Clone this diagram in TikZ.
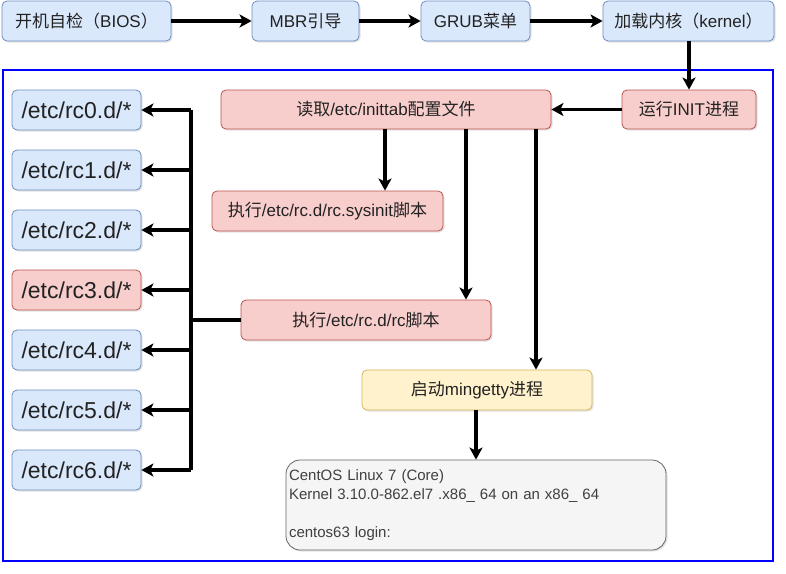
\documentclass[tikz,border=0pt]{standalone}
\usepackage{fontspec}
\setmainfont{Liberation Sans}
\newfontfamily\cjk{Noto Sans CJK SC}
\newcommand\zh[1]{{\cjk #1}}
\usetikzlibrary{arrows.meta,shadows}
\definecolor{bfill}{HTML}{DAE8FC}
\definecolor{bline}{HTML}{6C8EBF}
\definecolor{rfill}{HTML}{F8CECC}
\definecolor{rline}{HTML}{B85450}
\definecolor{yfill}{HTML}{FFF2CC}
\definecolor{yline}{HTML}{D6B656}
\definecolor{gfill}{HTML}{F5F5F5}
\definecolor{gline}{HTML}{666666}
\definecolor{txt}{HTML}{222222}
\tikzset{
  boxbase/.style={draw, rounded corners=5pt, inner sep=0pt, line width=0.8pt, text=txt,
    drop shadow={shadow xshift=1.5pt, shadow yshift=-1.5pt, opacity=0.22}},
  bluebox/.style={boxbase, fill=bfill, draw=bline},
  redbox/.style={boxbase, fill=rfill, draw=rline},
  yellowbox/.style={boxbase, fill=yfill, draw=yline},
  graybox/.style={boxbase, fill=gfill, draw=gline, rounded corners=14pt},
  midfont/.style={font=\fontsize{17}{20}\selectfont},
  bigfont/.style={font=\fontsize{23}{26}\selectfont},
  arr/.style={line width=3.2pt, -{Stealth[length=12pt,width=13pt,inset=3pt]}},
  busline/.style={line width=3.2pt},
}
\begin{document}
\begin{tikzpicture}[x=1pt,y=-1pt]
\useasboundingbox (0,0) rectangle (786,573);
\fill[white] (0,0) rectangle (786,573);
% outer frame
\draw[blue, line width=2.2pt] (3,70) rectangle (773,561);
% top row
\node[bluebox, midfont, minimum width=169, minimum height=40] (bios) at (86.5,21) {\zh{开机自检（}BIOS\zh{）}};
\node[bluebox, midfont, minimum width=107, minimum height=40] (mbr) at (305.5,21) {MBR\zh{引导}};
\node[bluebox, midfont, minimum width=109, minimum height=40] (grub) at (475.5,21) {GRUB\zh{菜单}};
\node[bluebox, midfont, minimum width=171, minimum height=40] (kernel) at (688.5,21) {\zh{加载内核（}kernel\zh{）}};
\draw[arr] (bios) -- (mbr);
\draw[arr] (mbr) -- (grub);
\draw[arr] (grub) -- (kernel);
% init
\node[redbox, midfont, minimum width=134, minimum height=39] (init) at (689,109.5) {\zh{运行}INIT\zh{进程}};
\draw[arr] (kernel.south -| init) -- (init.north);
\node[redbox, midfont, minimum width=330, minimum height=39] (inittab) at (386,109.5) {\zh{读取}/etc/inittab\zh{配置文件}};
\draw[arr] (init) -- (inittab);
\node[redbox, midfont, minimum width=231, minimum height=40] (sysinit) at (327.5,211) {\zh{执行}/etc/rc.d/rc.sysinit\zh{脚本}};
\node[redbox, midfont, minimum width=250, minimum height=40] (rcs) at (366,320) {\zh{执行}/etc/rc.d/rc\zh{脚本}};
\node[yellowbox, midfont, minimum width=230, minimum height=40] (getty) at (477,390) {\zh{启动}mingetty\zh{进程}};
\coordinate (xa) at (385,0);
\coordinate (xb) at (466,0);
\coordinate (xc) at (536,0);
\draw[arr] (inittab.south -| xa) -- (sysinit.north -| xa);
\draw[arr] (inittab.south -| xb) -- (rcs.north -| xb);
\draw[arr] (inittab.south -| xc) -- (getty.north -| xc);
% login box
\node[graybox, minimum width=380, minimum height=90, text width=374, align=left,
  font=\fontsize{15}{19}\selectfont, text=black!75] (login) at (476,505)
  {CentOS Linux 7 (Core)\\Kernel 3.10.0-862.el7 .x86\_ 64 on an x86\_ 64\\ \mbox{}\\centos63 login:};
\draw[arr] (getty.south -| login) -- (login.north);
% rc level boxes
\foreach \i/\c in {0/bluebox,1/bluebox,2/bluebox,3/redbox,4/bluebox,5/bluebox,6/bluebox}{
  \node[\c, bigfont, minimum width=129, minimum height=40] (rc\i) at (76.5,110+60*\i) {/etc/rc\i.d/*};
}
\coordinate (bus) at (191,0);
\draw[busline] (rc0.east -| bus) -- (rc6.east -| bus);
\draw[busline] (rcs.west) -- (rcs.west -| bus);
\foreach \i in {0,...,6}{
  \draw[arr] (rc\i.east -| bus) -- (rc\i.east);
}
\end{tikzpicture}
\end{document}
